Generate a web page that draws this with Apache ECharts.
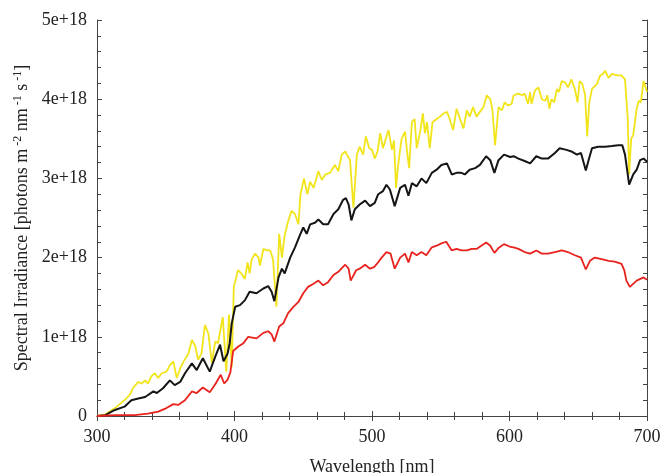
<!DOCTYPE html>
<html>
<head>
<meta charset="utf-8">
<script src="https://cdn.jsdelivr.net/npm/echarts@6/dist/echarts.min.js"></script>
<style>
html, body { margin: 0; padding: 0; background: #fff; }
#mainChart { width: 663px; height: 473px; }
</style>
</head>
<body>
<div id="mainChart"></div>
<script>
// values in units of 1e18 photons m^-2 nm^-1 s^-1
var yellowWl = [300,306,313,320,324,326,330,332.5,335,337,339.5,342,344.5,347,350.5,353,355.5,358,360.5,363,366.5,369,371.5,373.5,376,378.5,381,383.5,386,388,391.5,394,396,398,399.5,402.5,405,407.5,409.5,411,412.5,415,417.5,418.5,421,423.5,426,428,430.5,432.5,434.5,436.5,439,441.5,444,446.5,448,450.5,453,455,457.5,461,463.5,466,469.5,473,475.5,478,480.5,484,486.5,489,491,493.5,495.5,498,500,502,504,506,508,510.5,512,514.5,516,517.5,519,521.5,524,525.5,527,529,531,532.5,535,537,538.5,540,542,544,547,549.5,552,554.5,556.5,559,561.5,564,566.5,569,571,573.5,576,578.5,581,583.5,586,587.5,589.5,592,594.5,596.5,599,601.5,603,606.5,609,611,613.5,615,616,618.5,621,623.5,626,627.5,629,630.5,632.5,634.5,636,638,640.5,642.5,645,647.5,649.5,651,653,655,656.5,658,660,663.5,666,668,669.5,672,674.5,678,681.5,684,686,687,688.5,690,692.5,694,695.5,697.5,700];
var yellowVal = [0,0.02,0.10,0.20,0.27,0.35,0.43,0.41,0.45,0.41,0.50,0.54,0.48,0.54,0.56,0.64,0.69,0.48,0.60,0.69,0.79,0.96,0.88,0.71,0.79,1.15,1.04,0.67,0.94,0.92,1.25,0.56,1.28,0.62,1.63,1.84,1.80,1.73,1.94,1.80,1.98,2.05,2.00,1.90,2.11,2.09,2.09,1.98,1.38,2.30,2.00,2.28,2.46,2.59,2.55,2.42,2.80,3.00,2.80,2.96,2.88,3.09,2.98,3.05,3.07,3.17,3.09,3.30,3.34,3.23,2.63,3.30,3.40,3.30,3.53,3.38,3.36,3.25,3.34,3.57,3.38,3.53,3.61,3.36,3.48,2.88,3.17,3.50,3.59,3.34,3.13,3.71,3.75,3.38,3.59,3.82,3.57,3.71,3.38,3.71,3.75,3.78,3.82,3.84,3.75,3.61,3.88,3.75,3.63,3.86,3.78,3.90,3.78,3.84,3.90,4.05,4.00,3.88,3.42,3.90,3.86,3.96,3.92,3.94,4.05,4.07,4.05,4.07,3.94,4.09,3.94,4.11,4.15,4.00,3.98,4.05,3.88,4.00,3.96,4.13,4.09,4.23,4.21,4.15,4.25,4.13,3.96,4.23,4.19,4.05,3.53,3.96,4.13,4.19,4.30,4.32,4.36,4.27,4.32,4.30,4.30,4.25,3.75,3.05,3.50,3.55,3.88,3.98,3.96,4.23,4.09];

var blackWl = [300,306,313,320,325,330,335,341,343.5,348,353,356.5,360.5,364,369,372.5,377,382,386,389.5,392,395,396.5,398,400.5,404,407.5,411,416,421,424.5,427,429,432,434.5,436.5,440.5,444,447.5,450,452.5,455,458.5,461,464.5,468,472,475.5,479,481,483,485,487.5,491,495,498.5,502,504.5,508,510.5,513,516.5,520.5,524,526.5,529,532.5,536,539.5,543.5,547,550.5,554.5,558,561.5,565,567.5,571,575,578.5,583,586,589,592,596,600.5,603,606.5,611,615,619.5,623.5,628,633,636.5,641.5,645,649,652,655.5,657.5,660,664.5,669.5,674.5,679,682,684,686,687,690,692.5,695,697.5,700];
var blackVal = [0,0.01,0.076,0.118,0.20,0.22,0.24,0.31,0.29,0.35,0.45,0.39,0.43,0.54,0.665,0.58,0.73,0.56,0.75,0.90,0.69,0.79,0.92,1.17,1.38,1.40,1.46,1.57,1.55,1.61,1.64,1.57,1.45,1.75,1.86,1.80,2.00,2.13,2.28,2.38,2.30,2.42,2.44,2.48,2.42,2.42,2.55,2.61,2.73,2.75,2.67,2.47,2.61,2.67,2.72,2.65,2.69,2.80,2.84,2.92,2.86,2.65,2.88,2.92,2.78,2.94,2.90,3.00,2.94,3.07,3.11,3.17,3.19,3.05,3.07,3.07,3.05,3.11,3.13,3.17,3.28,3.23,3.07,3.23,3.30,3.27,3.28,3.25,3.22,3.19,3.28,3.25,3.25,3.32,3.38,3.36,3.34,3.30,3.32,3.10,3.23,3.38,3.40,3.40,3.41,3.42,3.42,3.30,3.05,2.92,3.05,3.11,3.23,3.25,3.21];

var redWl = [300,313,327.5,337,344.5,350.5,355.5,359,364,369,372.5,377,382,386,390,392.5,395,397,399,403,406.5,410,416,421,424.5,427,429,432.5,435.5,439,443,446.5,450,453.5,457.5,461,464.5,468,472,475.5,480.5,483,484.5,488.5,491,495,498.5,501.5,503.5,507,510.5,513.5,516.5,520.5,524,526.5,529,532.5,536,539.5,543.5,547,550.5,554,558,561.5,565,569,572.5,576,579.5,583,586,589,592,596,600,603,606.5,611,615,619.5,623.5,628,633,638,642.5,647.5,652,655.5,658.5,662,667,672,676.5,681.5,683.5,685,687.5,692.5,697.5,700];
var redVal = [0,0.01,0.01,0.03,0.055,0.10,0.15,0.14,0.20,0.31,0.29,0.36,0.30,0.40,0.52,0.41,0.46,0.55,0.82,0.88,0.92,1.00,0.98,1.05,1.07,1.03,0.94,1.13,1.17,1.30,1.38,1.44,1.55,1.63,1.67,1.71,1.65,1.69,1.78,1.82,1.91,1.86,1.71,1.84,1.86,1.91,1.86,1.88,1.92,2.00,2.07,2.05,1.86,2.00,2.05,1.94,2.07,2.03,2.07,2.03,2.13,2.15,2.18,2.20,2.09,2.11,2.09,2.09,2.11,2.11,2.15,2.19,2.15,2.06,2.12,2.17,2.14,2.13,2.11,2.07,2.05,2.09,2.05,2.05,2.07,2.09,2.07,2.03,2.00,1.85,1.96,2.00,1.98,1.96,1.95,1.92,1.84,1.71,1.63,1.71,1.75,1.72];

var yTickLabels = ['0', '1e+18', '2e+18', '3e+18', '4e+18', '5e+18'];

function zip(a, b) {
    var out = [];
    for (var i = 0; i < a.length; i++) out.push([a[i], b[i]]);
    return out;
}

var myChart = echarts.init(document.getElementById("mainChart"));
var font = "Liberation Serif";
var axisCol = "#444";

function xAx(pos, labels) {
    return {
        type: "value", position: pos, min: 300, max: 700, interval: 100,
        name: labels ? "Wavelength [nm]" : "",
        nameLocation: "middle", nameGap: 42,
        nameTextStyle: { fontFamily: font, fontSize: 18, color: "#222" },
        axisLine: { show: true, lineStyle: { color: axisCol, width: 1 } },
        axisTick: { show: true, inside: true, length: 5, lineStyle: { color: axisCol } },
        minorTick: { show: true, splitNumber: 5, length: 4, lineStyle: { color: axisCol } },
        axisLabel: { show: labels, margin: 12, fontFamily: font, fontSize: 18, color: "#222" },
        splitLine: { show: false }
    };
}
function yAx(pos, labels) {
    return {
        type: "value", position: pos, min: 0, max: 5, interval: 1,
        name: labels ? "Spectral Irradiance [photons m{sup|-2} nm{sup|-1} s{sup|-1}]" : "",
        nameLocation: "middle", nameGap: 60, nameRotate: 90,
        nameTextStyle: {
            fontFamily: font, fontSize: 18, color: "#222",
            rich: { sup: { fontFamily: font, fontSize: 12, color: "#222", verticalAlign: "top", padding: [0, 0, 8, 3] } }
        },
        axisLine: { show: true, lineStyle: { color: axisCol, width: 1 } },
        axisTick: { show: true, inside: true, length: 5, lineStyle: { color: axisCol } },
        minorTick: { show: true, splitNumber: 5, length: 4, lineStyle: { color: axisCol } },
        axisLabel: {
            show: labels, margin: 10, fontFamily: font, fontSize: 18, color: "#222",
            formatter: function (v) { return yTickLabels[Math.round(v)]; }
        },
        splitLine: { show: false }
    };
}

var option = {
    animation: false,
    backgroundColor: "#fff",
    grid: { left: 97, right: 16, top: 20, bottom: 57, outerBoundsMode: "none", containLabel: false },
    xAxis: [xAx("bottom", true), xAx("top", false)],
    yAxis: [yAx("left", true), yAx("right", false)],
    series: [
        { type: "line", data: zip(yellowWl, yellowVal), showSymbol: false, lineStyle: { color: "#f2e41b", width: 1.8 }, itemStyle: { color: "#f2e41b" } },
        { type: "line", data: zip(blackWl, blackVal), showSymbol: false, lineStyle: { color: "#151515", width: 2 }, itemStyle: { color: "#151515" } },
        { type: "line", data: zip(redWl, redVal), showSymbol: false, lineStyle: { color: "#e8231d", width: 1.8 }, itemStyle: { color: "#e8231d" } }
    ]
};
myChart.setOption(option);
</script>
</body>
</html>
